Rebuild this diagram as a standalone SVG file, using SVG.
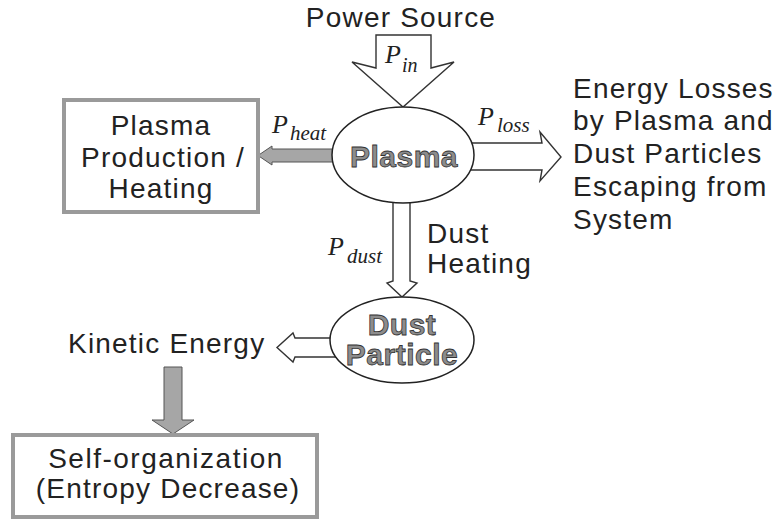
<svg xmlns="http://www.w3.org/2000/svg" width="780" height="526" viewBox="0 0 780 526">
<style>
.t{font-family:"Liberation Sans",Arial,sans-serif;font-size:28px;fill:#222;letter-spacing:1.2px}
.b{font-family:"Liberation Sans",Arial,sans-serif;font-size:30px;font-weight:bold;fill:#8c8c8c;stroke:#333;stroke-width:0.8px;letter-spacing:0.5px}
.p{font-family:"Liberation Serif","Times New Roman",serif;font-style:italic;fill:#222}
.hollow{fill:#fff;stroke:#333;stroke-width:1.4}
.gray{fill:#a6a6a6;stroke:#555;stroke-width:1}
.box{fill:#fff;stroke:#9a9a9a;stroke-width:4}
.ell{fill:#fff;stroke:#222;stroke-width:1.5}
</style>
<rect width="780" height="526" fill="#fff"/>
<g id="connectors">
  <polygon class="hollow" points="376,35 431,35 431,68 454,62 403,107 352,62 376,68"/>
  <polygon class="gray" points="340,149 272,149 272,146 258,155.5 272,165 272,162 340,162"/>
  <polygon class="hollow" points="465,143 542,143 540,132 561,157 540,181 542,170 465,170"/>
  <polygon class="hollow" points="393,190 410,190 410,281 417,283 402,297 387,283 393,281"/>
  <polygon class="hollow" points="340,338 295,338 293,333 277,347.5 293,362 295,357 340,357"/>
  <polygon class="gray" points="164,367 182,367 182,420 194,420 173,434 152,420 164,420"/>
  <g id="label-pin"><text class="p" x="385" y="63" font-size="26">P</text><text class="p" x="402" y="72" font-size="20">in</text></g>
  <g id="label-pheat"><text class="p" x="272" y="133" font-size="26">P</text><text class="p" x="290" y="140" font-size="21">heat</text></g>
  <g id="label-ploss"><text class="p" x="478" y="125" font-size="26">P</text><text class="p" x="497" y="132" font-size="21">loss</text></g>
  <g id="label-pdust"><text class="p" x="328" y="255" font-size="26">P</text><text class="p" x="347" y="263" font-size="21">dust</text></g>
</g>
<g id="power-source"><text class="t" x="401" y="27" text-anchor="middle">Power Source</text></g>
<g id="plasma-production">
  <rect class="box" x="64" y="100" width="194" height="112"/>
  <text class="t" x="161" y="135" text-anchor="middle">Plasma</text>
  <text class="t" x="163" y="167" text-anchor="middle">Production /</text>
  <text class="t" x="161" y="198" text-anchor="middle">Heating</text>
</g>
<g id="plasma">
  <ellipse class="ell" cx="403" cy="155" rx="71" ry="48"/>
  <text class="b" x="404" y="167" text-anchor="middle">Plasma</text>
</g>
<g id="energy-losses">
  <text class="t" x="573" y="98">Energy Losses</text>
  <text class="t" x="573" y="130">by Plasma and</text>
  <text class="t" x="573" y="163">Dust Particles</text>
  <text class="t" x="573" y="196">Escaping from</text>
  <text class="t" x="573" y="229">System</text>
</g>
<g id="dust-heating">
  <text class="t" x="427" y="243">Dust</text>
  <text class="t" x="427" y="273">Heating</text>
</g>
<g id="dust-particle">
  <ellipse class="ell" cx="402" cy="340" rx="72" ry="43"/>
  <text class="b" x="402" y="335" text-anchor="middle">Dust</text>
  <text class="b" x="402" y="365" text-anchor="middle">Particle</text>
</g>
<g id="kinetic-energy"><text class="t" x="68" y="353">Kinetic Energy</text></g>
<g id="self-organization">
  <rect class="box" x="13" y="435" width="304" height="82"/>
  <text class="t" x="166" y="468" text-anchor="middle" style="letter-spacing:1.5px">Self-organization</text>
  <text class="t" x="168" y="498" text-anchor="middle">(Entropy Decrease)</text>
</g>
</svg>
